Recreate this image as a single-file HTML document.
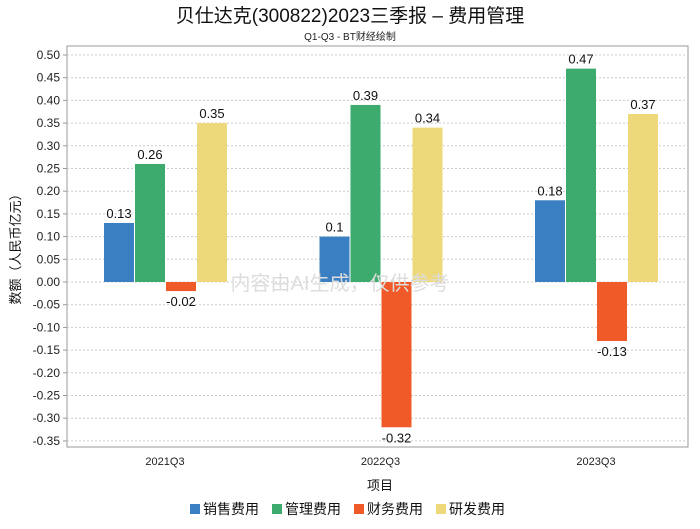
<!DOCTYPE html>
<html><head><meta charset="utf-8"><style>
body{margin:0;background:#fff;}
svg text{font-family:"Liberation Sans","Noto Sans CJK SC",sans-serif;}
</style></head><body>
<svg id="chart" width="700" height="524" xmlns="http://www.w3.org/2000/svg">
<text x="350" y="22" text-anchor="middle" font-size="19" fill="#111">贝仕达克(300822)2023三季报 – 费用管理</text>
<text x="350" y="40" text-anchor="middle" font-size="10" fill="#222">Q1-Q3 - BT财经绘制</text>
<rect x="67" y="46" width="621" height="401" fill="none" stroke="#999"/>
<g id="grid"></g><g id="bars"></g><g id="labels"></g>
<text x="20" y="246" transform="rotate(-90 20 246)" text-anchor="middle" font-size="13" fill="#111">数额（人民币亿元）</text>
<text x="380" y="490" text-anchor="middle" font-size="13" fill="#111">项目</text>
<text x="340" y="290" text-anchor="middle" font-size="20" fill="#ddd">内容由AI生成，仅供参考</text>
<g id="legend"></g>
</svg>
<script>
const categories=["2021Q3","2022Q3","2023Q3"];
const seriesNames=["销售费用","管理费用","财务费用","研发费用"];
const colors=["#3a7fc1","#3daa6e","#f05a28","#edd87a"];
const sales=[0.13,0.1,0.18];
const admin=[0.26,0.39,0.47];
const finance=[-0.02,-0.32,-0.13];
const rnd=[0.35,0.34,0.37];
const yTicks=[0.5,0.45,0.4,0.35,0.3,0.25,0.2,0.15,0.1,0.05,0,-0.05,-0.1,-0.15,-0.2,-0.25,-0.3,-0.35];
const series=[sales,admin,finance,rnd];
const NS="http://www.w3.org/2000/svg";
const y=v=>282-v*454;
const xc=i=>165+i*215.5;
function mk(t,a,p){const e=document.createElementNS(NS,t);for(const k in a)e.setAttribute(k,a[k]);p.appendChild(e);return e;}
const grid=document.getElementById('grid'),bars=document.getElementById('bars'),labels=document.getElementById('labels'),legend=document.getElementById('legend');
yTicks.forEach(t=>{
 const l=mk('line',{x1:67,x2:688,y1:y(t),y2:y(t),stroke:'#ccc','stroke-dasharray':'2,2'},grid);
 
 
 const tk=mk('line',{x1:63,x2:67,y1:y(t),y2:y(t),stroke:'#999'},grid);
 
 
 const tx=mk('text',{x:60,y:y(t)+4,'text-anchor':'end','font-size':12,fill:'#222'},grid);
 tx.textContent=t.toFixed(2);
 
 
});
categories.forEach((c,i)=>{
 const tx=mk('text',{x:xc(i),y:465,'text-anchor':'middle','font-size':11,fill:'#222'},labels);
 tx.textContent=c;
 
 
 series.forEach((s,j)=>{
  const v=s[i],x0=xc(i)-61+j*31;
  const r=mk('rect',{x:x0,y:Math.min(y(v),y(0)),width:30,height:Math.abs(y(v)-y(0)),fill:colors[j]},bars);
  
  
  const lb=mk('text',{x:x0+15,y:v>=0?y(v)-5:y(v)+15,'text-anchor':'middle','font-size':13,fill:'#111'},labels);
  lb.textContent=String(v);
  
  
 });
});
const lx=[190,272,354,436];
seriesNames.forEach((n,j)=>{
 const r=mk('rect',{x:lx[j],y:504,width:10,height:10,fill:colors[j]},legend);
 
 
 const t=mk('text',{x:lx[j]+13,y:514,'font-size':14,fill:'#111'},legend);
 t.textContent=n;
 
 
});
</script>
</body></html>
